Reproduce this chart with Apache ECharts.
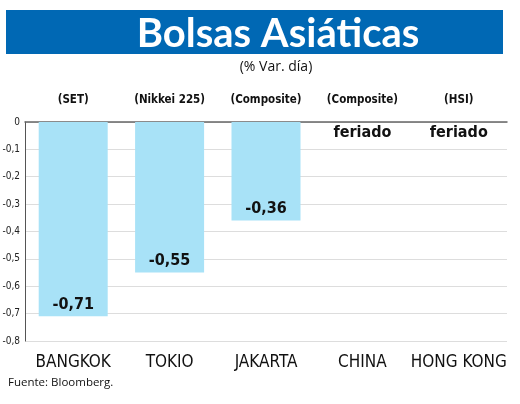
<!DOCTYPE html>
<html>
<head>
<meta charset="utf-8">
<script src="https://cdn.jsdelivr.net/npm/echarts@6/dist/echarts.min.js"></script>
<style>
  html, body { margin: 0; padding: 0; background: #fff; }
  #chart { width: 520px; height: 404px; }
</style>
</head>
<body>
<div id="chart"></div>
<script>
// data
var cities = ['BANGKOK', 'TOKIO', 'JAKARTA', 'CHINA', 'HONG KONG']
var indexNames = ['(SET)', '(Nikkei 225)', '(Composite)', '(Composite)', '(HSI)']
var variation = [-0.71, -0.55, -0.36, 0, 0]
var notes = ['', '', '', 'feriado', 'feriado']
var yTicks = [0, -0.1, -0.2, -0.3, -0.4, -0.5, -0.6, -0.7, -0.8]

var narrow = "'DejaVu Sans Condensed', 'DejaVu Sans', sans-serif"

var chart = echarts.init(document.getElementById('chart'))

var fmt = function (v) {
  return String(v).replace('.', ',')
}

var barData = variation.map(function (v, i) {
  var item = { value: v }
  if (notes[i]) {
    item.label = {
      show: true,
      position: 'insideTop',
      distance: 0,
      offset: [0, 3],
      formatter: notes[i],
      fontSize: 16
    }
  }
  return item
})

var option = {
  animation: false,
  backgroundColor: '#fff',
  graphic: [{
    type: 'rect',
    shape: { x: 6, y: 10, width: 497, height: 44 },
    style: { fill: '#0068b4' },
    z: 0
  }],
  title: [{
    text: 'Bolsas Asiáticas',
    left: 278,
    top: 14,
    padding: 0,
    textAlign: 'center',
    textStyle: { color: '#fff', fontSize: 40, fontWeight: 'bold', fontFamily: 'Lato, sans-serif' }
  }, {
    text: '(% Var. día)',
    left: 276,
    top: 60,
    padding: 0,
    textAlign: 'center',
    textStyle: { color: '#111', fontSize: 14, fontWeight: 'normal', fontFamily: "'Open Sans', sans-serif" }
  }, {
    text: 'Fuente: Bloomberg.',
    left: 8,
    top: 377,
    padding: 0,
    textStyle: { color: '#111', fontSize: 11.5, fontWeight: 'normal', fontFamily: "'Open Sans', sans-serif" }
  }],
  grid: { left: 25, right: 13, top: 122, bottom: 63, outerBoundsMode: 'none', containLabel: false },
  xAxis: [{
    type: 'category',
    data: cities,
    position: 'bottom',
    axisLine: { show: false },
    axisTick: { show: false },
    axisLabel: { interval: 0, margin: 13, color: '#111', fontSize: 17, fontFamily: narrow }
  }, {
    type: 'category',
    data: indexNames,
    position: 'top',
    axisLine: { show: true, lineStyle: { color: '#666', width: 1.5 } },
    axisTick: { show: false },
    axisLabel: { interval: 0, margin: 16, color: '#111', fontSize: 11.5, fontWeight: 'bold', fontFamily: narrow }
  }],
  yAxis: {
    type: 'value',
    min: -0.8,
    max: 0,
    interval: 0.1,
    axisLine: { show: true, lineStyle: { color: '#555', width: 1 } },
    axisTick: { show: false },
    splitLine: { lineStyle: { color: '#ddd', width: 1 } },
    axisLabel: {
      margin: 5,
      color: '#222',
      fontSize: 10,
      fontFamily: narrow,
      formatter: function (v) {
        var r = Math.round(v * 10) / 10
        return yTicks.indexOf(r) >= 0 ? fmt(r) : ''
      }
    }
  },
  series: [{
    type: 'bar',
    xAxisIndex: 0,
    data: barData,
    barWidth: 69,
    itemStyle: { color: '#a8e2f7' },
    label: {
      show: true,
      position: 'insideBottom',
      distance: 4,
      color: '#111',
      fontSize: 16,
      fontWeight: 'bold',
      fontFamily: narrow,
      formatter: function (p) {
        return p.value < 0 ? fmt(p.value) : ''
      }
    }
  }]
}

chart.setOption(option)
</script>
</body>
</html>
